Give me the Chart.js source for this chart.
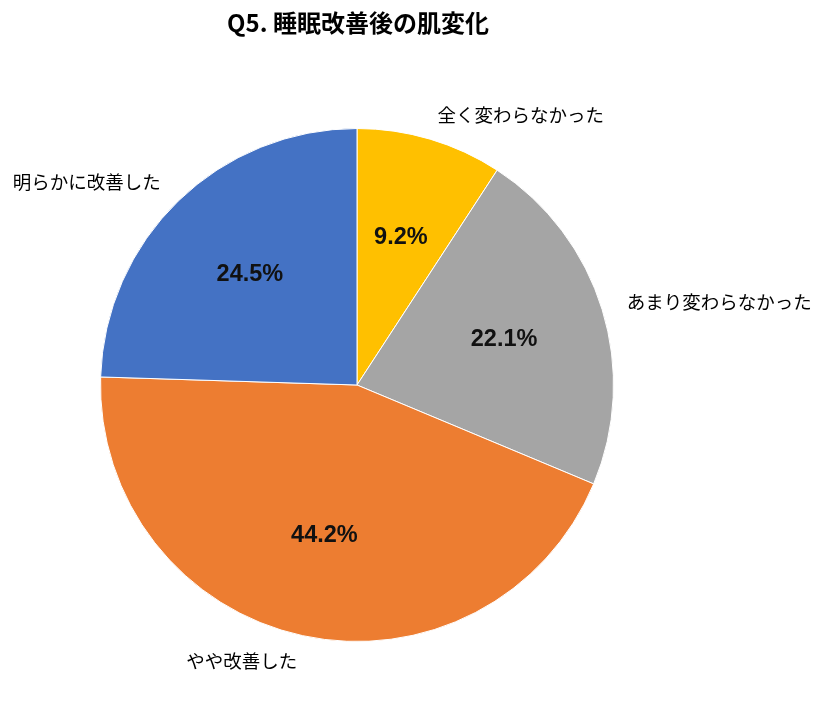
<!DOCTYPE html>
<html>
<head>
<meta charset="utf-8">
<script src="https://cdn.jsdelivr.net/npm/chart.js@4/dist/chart.umd.min.js"></script>
<style>
  html, body { margin: 0; padding: 0; background: #fff; }
  #wrap { width: 825px; height: 718px; position: relative; }
</style>
</head>
<body>
<div id="wrap"><canvas id="pie"></canvas></div>
<script>
const title = 'Q5. 睡眠改善後の肌変化';
const labels = ['全く変わらなかった', 'あまり変わらなかった', 'やや改善した', '明らかに改善した'];
const values = [9.2, 22.1, 44.2, 24.5];
const colors = ['#FFC000', '#A5A5A5', '#ED7D31', '#4472C4'];

const JP = '"Noto Sans CJK JP", "Noto Sans", sans-serif';

// draws the title, inner percentages and outer category names
const pieLabels = {
    id: 'pieLabels',
    afterDatasetsDraw(chart) {
        const ctx = chart.ctx;
        const meta = chart.getDatasetMeta(0);
        ctx.save();
        ctx.fillStyle = '#000';
        ctx.textAlign = 'center';
        ctx.textBaseline = 'middle';
        ctx.font = 'bold 24px ' + JP;
        ctx.fillText(title, 358, 23);

        meta.data.forEach((arc, i) => {
            const { x, y, startAngle, endAngle, outerRadius } = arc.getProps(['x', 'y', 'startAngle', 'endAngle', 'outerRadius'], true);
            const mid = (startAngle + endAngle) / 2;
            const px = x + Math.cos(mid) * outerRadius * 0.6;
            const py = y + Math.sin(mid) * outerRadius * 0.6;
            ctx.textAlign = 'center';
            ctx.fillStyle = '#111';
            ctx.font = 'bold 23.5px "Liberation Sans", Arial, sans-serif';
            ctx.fillText(values[i].toFixed(1) + '%', px, py);

            const lx = x + Math.cos(mid) * outerRadius * 1.1;
            const ly = y + Math.sin(mid) * outerRadius * 1.1;
            ctx.textAlign = lx >= x ? 'left' : 'right';
            ctx.fillStyle = '#000';
            ctx.font = '18.5px ' + JP;
            ctx.fillText(labels[i], lx, ly);
        });
        ctx.restore();
    }
};

new Chart(document.getElementById('pie').getContext('2d'), {
    type: 'pie',
    data: {
        labels: labels,
        datasets: [{
            data: values,
            backgroundColor: colors,
            borderColor: '#fff',
            borderWidth: 1
        }]
    },
    options: {
        responsive: true,
        maintainAspectRatio: false,
        animation: false,
        layout: { padding: { left: 100, right: 211, top: 128, bottom: 76 } },
        plugins: { legend: { display: false }, tooltip: { enabled: false }, title: { display: false } }
    },
    plugins: [pieLabels]
});
</script>
</body>
</html>
